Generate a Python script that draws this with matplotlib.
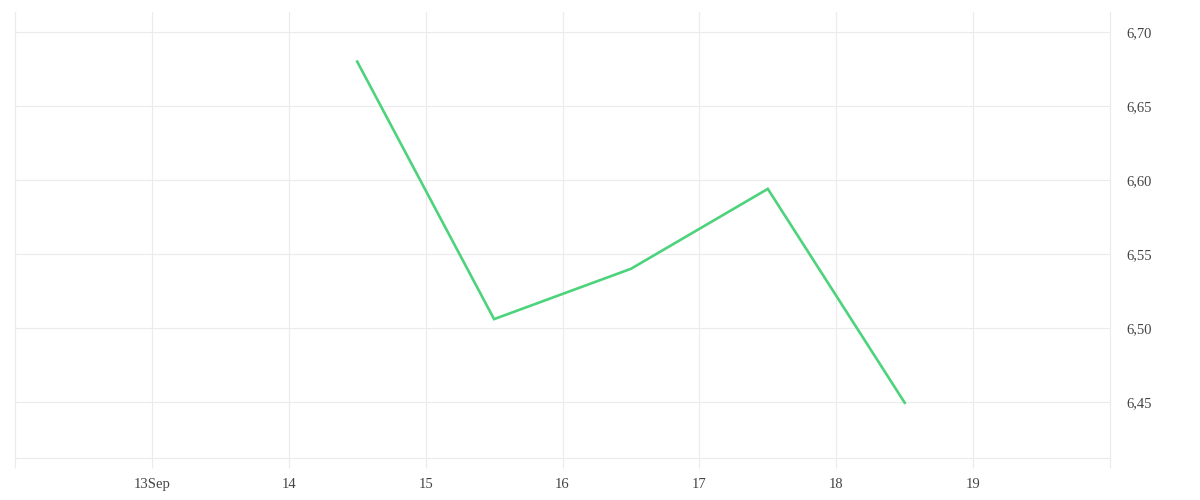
import matplotlib
matplotlib.use("Agg")
import matplotlib.pyplot as plt
from matplotlib.ticker import FixedLocator, FuncFormatter

# Data
days = [14.5, 15.5, 16.5, 17.5, 18.5]
values = [6.680, 6.506, 6.540, 6.594, 6.4495]
x_ticks = [12, 13, 14, 15, 16, 17, 18, 19, 20]
x_labels = ["", "13Sep", "14", "15", "16", "17", "18", "19", ""]
y_ticks = [6.45, 6.50, 6.55, 6.60, 6.65, 6.70]

W, H = 1200, 500
fig = plt.figure(figsize=(W / 100, H / 100), dpi=100)
left, right, top, bottom = 15, 1110, 12, 458
ax = fig.add_axes([left / W, 1 - bottom / H, (right - left) / W, (bottom - top) / H])

grid_c = "#ebebeb"
font = ["Liberation Serif", "DejaVu Serif"]

ax.plot(days, values, color="#4cd37b", linewidth=1.9, solid_joinstyle="miter")

ax.set_xlim(12, 20)
ax.set_ylim(6.45 - 56 / 1480, 6.70 + 20 / 1480)

ax.xaxis.set_major_locator(FixedLocator(x_ticks))
ax.set_xticklabels(x_labels)
ax.yaxis.set_major_locator(FixedLocator(y_ticks))
ax.yaxis.set_major_formatter(FuncFormatter(lambda v, p: f"{v:.2f}".replace(".", ",")))
ax.yaxis.tick_right()

ax.grid(True, color=grid_c, linewidth=0.8)
ax.set_axisbelow(True)
ax.spines["top"].set_visible(False)
for s in ["bottom", "left", "right"]:
    ax.spines[s].set_color(grid_c)
    ax.spines[s].set_linewidth(0.8)

ax.tick_params(axis="x", direction="out", length=7.5, width=0.8, color=grid_c,
               pad=7, labelsize=10.5, labelcolor="#444444")
ax.tick_params(axis="y", length=0, pad=12, labelsize=10.5, labelcolor="#444444")
for lab in ax.get_xticklabels() + ax.get_yticklabels():
    lab.set_family(font)

fig.savefig("out.png", dpi=100, facecolor="white")
